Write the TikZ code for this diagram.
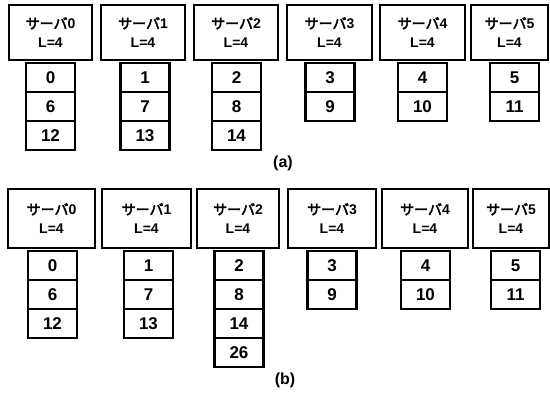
\documentclass[tikz,border=0pt]{standalone}
\usepackage{fontspec}
\newfontfamily\jp{Noto Sans CJK JP}[AutoFakeBold=3]
\newfontfamily\digits{Liberation Sans Bold}
\begin{document}
\begin{tikzpicture}[x=1pt,y=-1pt,
  srv/.style={draw,line width=2.2pt,rectangle,inner sep=0pt,align=center,
    font=\jp\bfseries\fontsize{14}{19}\selectfont},
  cell/.style={draw,line width=2.2pt,rectangle,inner sep=0pt,minimum width=49pt,minimum height=29pt,
    font=\digits\fontsize{17}{18}\selectfont},
  sublabel/.style={font=\digits\fontsize{16}{17}\selectfont}]
\useasboundingbox (0,0) rectangle (550,393);
% (a)
\foreach \i/\bx/\bw/\cx/\vals in {0/50.5/83/50.5/{0,6,12},1/143/84/145/{1,7,13},2/236/84/236.5/{2,8,14},3/329.5/85/330/{3,9},4/422.5/85/422.5/{4,10},5/509.5/77/514.5/{5,11}}{
  \node[srv,minimum width=\bw pt,minimum height=55pt] (a\i) at (\bx,32.5) {サーバ{\digits\i}\\{\digits L=4}};
  \foreach \v [count=\k from 0] in \vals {
    \node[cell] (a\i c\k) at (\cx,{63+14.5+29*\k}) {\v};
  }
}
\node[sublabel] (la) at (283,163) {(a)};
% (b)
\foreach \i/\bx/\bw/\cx/\vals in {0/51.5/87/52.5/{0,6,12},1/146.5/89/148.5/{1,7,13},2/238/82/239/{2,8,14,26},3/332/88/332/{3,9},4/425/86/425.5/{4,10},5/511/76/515.5/{5,11}}{
  \node[srv,minimum width=\bw pt,minimum height=59pt] (b\i) at (\bx,218.5) {サーバ{\digits\i}\\{\digits L=4}};
  \foreach \v [count=\k from 0] in \vals {
    \node[cell] (b\i c\k) at (\cx,{251+14.5+29*\k}) {\v};
  }
}
\node[sublabel] (lb) at (285,380) {(b)};
\end{tikzpicture}
\end{document}
